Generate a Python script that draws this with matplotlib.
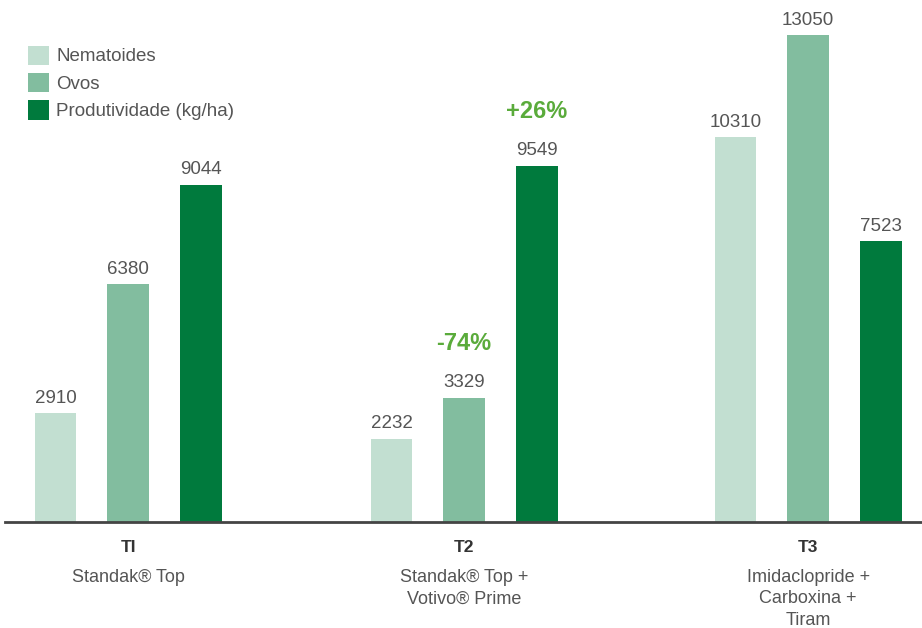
import numpy as np
import matplotlib
matplotlib.use("Agg")
import matplotlib.pyplot as plt
from matplotlib.patches import Patch

plt.rcParams['font.family'] = ['Liberation Sans', 'DejaVu Sans']

# data
groups = ['TI', 'T2', 'T3']
group_desc = ['Standak® Top', 'Standak® Top +\nVotivo® Prime', 'Imidaclopride +\nCarboxina +\nTiram']
series = ['Nematoides', 'Ovos', 'Produtividade (kg/ha)']
nematoides = [2910, 2232, 10310]
ovos = [6380, 3329, 13050]
produtividade = [9044, 9549, 7523]
changes = {('T2', 'Ovos'): '-74%', ('T2', 'Produtividade (kg/ha)'): '+26%'}

colors = ['#c2dfd1', '#82bd9f', '#007a3d']
text_gray = '#555555'
pct_green = '#5aab3b'

fig = plt.figure(figsize=(9.22, 6.28), dpi=100)
ax = fig.add_axes([5 / 922, (628 - 522) / 628, 917 / 922, 522 / 628])

# group centres are not quite evenly spaced in the original
x = np.array([0.0, 0.988, 2.0])
offsets = [-0.213, 0.0, 0.215]
width = 0.122
values = [nematoides, ovos, produtividade]

for i, (name, vals) in enumerate(zip(series, values)):
    pos = x + offsets[i]
    ax.bar(pos, vals, width=width, color=colors[i], label=name, zorder=2)
    for p, v, g in zip(pos, vals, groups):
        ax.text(p, v + 170, str(v), ha='center', va='bottom', fontsize=13.5, color=text_gray)
        if (g, name) in changes:
            ax.text(p, v + 1450, changes[(g, name)], ha='center', va='center',
                    fontsize=17, fontweight='bold', color=pct_green)

ax.set_xlim(-0.362, 2.335)
ax.set_ylim(0, 13995)
for s in ['top', 'right', 'left']:
    ax.spines[s].set_visible(False)
ax.spines['bottom'].set_color('#444444')
ax.spines['bottom'].set_linewidth(2)
ax.set_yticks([])
ax.set_xticks([])

# category labels under axis
for xi, g, d in zip(x, groups, group_desc):
    ax.annotate(g, (xi, 0), xytext=(0, -18), textcoords='offset points',
                ha='center', va='center', fontsize=12.5, fontweight='bold', color='#333333')
    ax.annotate(d, (xi, 0), xytext=(0, -33.5), textcoords='offset points',
                ha='center', va='top', fontsize=13, color=text_gray, linespacing=1.38)

handles = [Patch(facecolor=c, label=n) for c, n in zip(colors, series)]
leg = fig.legend(handles=handles, loc='upper left', bbox_to_anchor=(20.5 / 922, 1 - 38 / 628),
                 frameon=False, fontsize=13.5, handlelength=1.12, handleheight=1.2,
                 handletextpad=0.4, labelspacing=0.4, borderaxespad=0)
for t in leg.get_texts():
    t.set_color(text_gray)

fig.savefig('out.png', dpi=100)
